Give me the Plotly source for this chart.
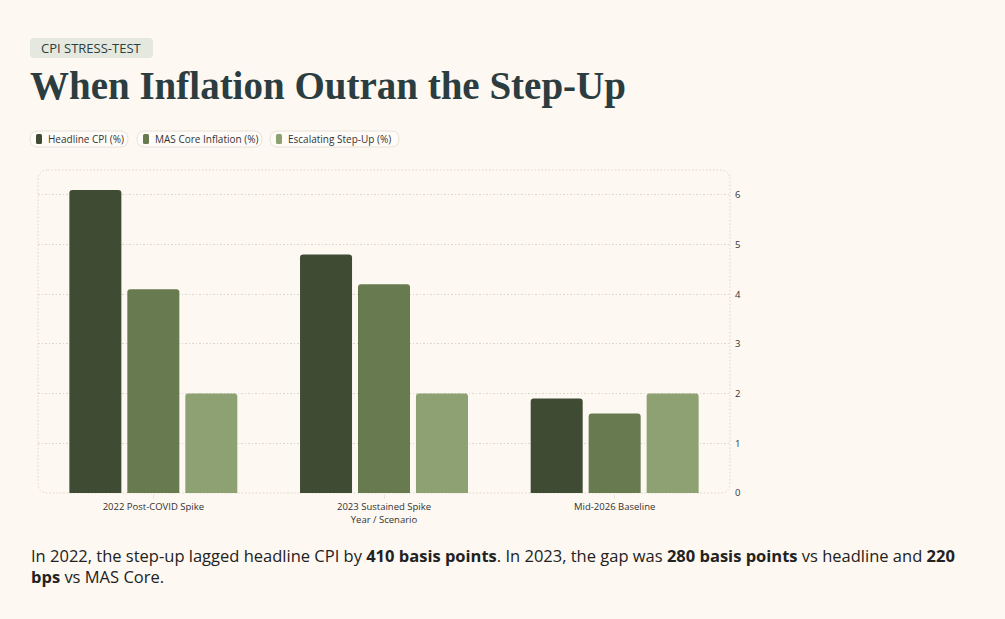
import plotly.graph_objects as go

# data
scenarios = ["2022 Post-COVID Spike", "2023 Sustained Spike", "Mid-2026 Baseline"]
series_names = ["Headline CPI (%)", "MAS Core Inflation (%)", "Escalating Step-Up (%)"]
headline_cpi = [6.1, 4.8, 1.9]
mas_core = [4.1, 4.2, 1.6]
step_up = [2.0, 2.0, 2.0]
y_ticks = [0, 1, 2, 3, 4, 5, 6]

colors = ["#3f4b33", "#687a50", "#8ea172"]
bg = "#fdf8f1"
grid = "#dcd6cc"
font_ui = "Open Sans"

W, H = 1005, 619
L, R, T, B = 38, 730, 170, 493  # plot area in pixels


def px(x):
    return (x - L) / (R - L)


def py(y):
    return (B - y) / (B - T)


def rounded_rect(x0, y0, x1, y1, r):
    # path in paper coords, corners given in pixels
    pts = [
        f"M{px(x0 + r)},{py(y0)}",
        f"L{px(x1 - r)},{py(y0)}",
        f"Q{px(x1)},{py(y0)} {px(x1)},{py(y0 + r)}",
        f"L{px(x1)},{py(y1 - r)}",
        f"Q{px(x1)},{py(y1)} {px(x1 - r)},{py(y1)}",
        f"L{px(x0 + r)},{py(y1)}",
        f"Q{px(x0)},{py(y1)} {px(x0)},{py(y1 - r)}",
        f"L{px(x0)},{py(y0 + r)}",
        f"Q{px(x0)},{py(y0)} {px(x0 + r)},{py(y0)}",
        "Z",
    ]
    return " ".join(pts)


fig = go.Figure()
for name, vals, c in zip(series_names, [headline_cpi, mas_core, step_up], colors):
    fig.add_trace(go.Bar(name=name, x=scenarios, y=vals, marker_color=c,
                         marker_line_width=0, showlegend=False))

shapes = []
annotations = []

# dotted frame around the plot
shapes.append(dict(type="path", xref="paper", yref="paper",
                   path=rounded_rect(L, T, R, B, 10),
                   line=dict(color=grid, width=1, dash="1.5px,2px"), layer="below"))

# badge
shapes.append(dict(type="path", xref="paper", yref="paper",
                   path=rounded_rect(30, 38, 153, 58, 4),
                   fillcolor="#e5e8de", line_width=0, layer="below"))
annotations.append(dict(text="CPI STRESS-TEST", xref="paper", yref="paper",
                        x=px(91.5), y=py(48), xanchor="center", yanchor="middle",
                        showarrow=False,
                        font=dict(family=font_ui, size=13, color="#2c3e40")))

# title
annotations.append(dict(text="<b>When Inflation Outran the Step-Up</b>", xref="paper", yref="paper",
                        x=px(28), y=py(86), xanchor="left", yanchor="middle", showarrow=False,
                        font=dict(family="Liberation Serif", size=39, color="#2b3d40")))

# legend pills
pills = [(30, 128), (137, 262), (270, 399)]
for (x0, x1), name, c in zip(pills, series_names, colors):
    shapes.append(dict(type="path", xref="paper", yref="paper",
                       path=rounded_rect(x0, 131, x1, 147, 8),
                       fillcolor="#fffcf8", line=dict(color="#e8e2d8", width=1), layer="below"))
    shapes.append(dict(type="path", xref="paper", yref="paper",
                       path=rounded_rect(x0 + 6, 134, x0 + 12, 144, 1.5),
                       fillcolor=c, line_width=0))
    annotations.append(dict(text=name, xref="paper", yref="paper",
                            x=px(x0 + 16), y=py(139), xanchor="left", yanchor="middle",
                            showarrow=False,
                            font=dict(family=font_ui, size=10, color="#333333")))

# takeaway text
annotations.append(dict(
    text="In 2022, the step-up lagged headline CPI by <b>410 basis points</b>. "
         "In 2023, the gap was <b>280 basis points</b> vs headline and <b>220</b><br>"
         "<b>bps</b> vs MAS Core.",
    xref="paper", yref="paper", x=px(29), y=py(542), xanchor="left", yanchor="top",
    align="left", showarrow=False,
    font=dict(family=font_ui, size=16.5, color="#222222")))

fig.update_layout(
    width=W, height=H,
    margin=dict(l=L, r=W - R, t=T, b=H - B, pad=0),
    paper_bgcolor=bg, plot_bgcolor=bg,
    barmode="group", bargap=0.246, bargroupgap=0.103,
    barcornerradius=3,
    font=dict(family=font_ui, size=10, color="#333333"),
    shapes=shapes, annotations=annotations,
    showlegend=False,
)
fig.update_xaxes(showgrid=False, showline=False, zeroline=False,
                 ticks="outside", ticklen=5, tickcolor="#ebe5dc",
                 tickfont=dict(size=9.5),
                 title=dict(text="Year / Scenario", font=dict(size=9.5), standoff=2))
fig.update_yaxes(side="right", range=[0, 6.5], tickvals=y_ticks, showgrid=True,
                 gridcolor=grid, griddash="1.5px,2px", zeroline=False, showline=False,
                 tickfont=dict(size=9.5), ticklabelstandoff=4)

# drop the default page margin so the figure sits at the window's corner
fig.write_html("out.html", config={"displayModeBar": False},
               post_script="document.body.style.margin='0';"
                           "document.body.style.background='" + bg + "';")
